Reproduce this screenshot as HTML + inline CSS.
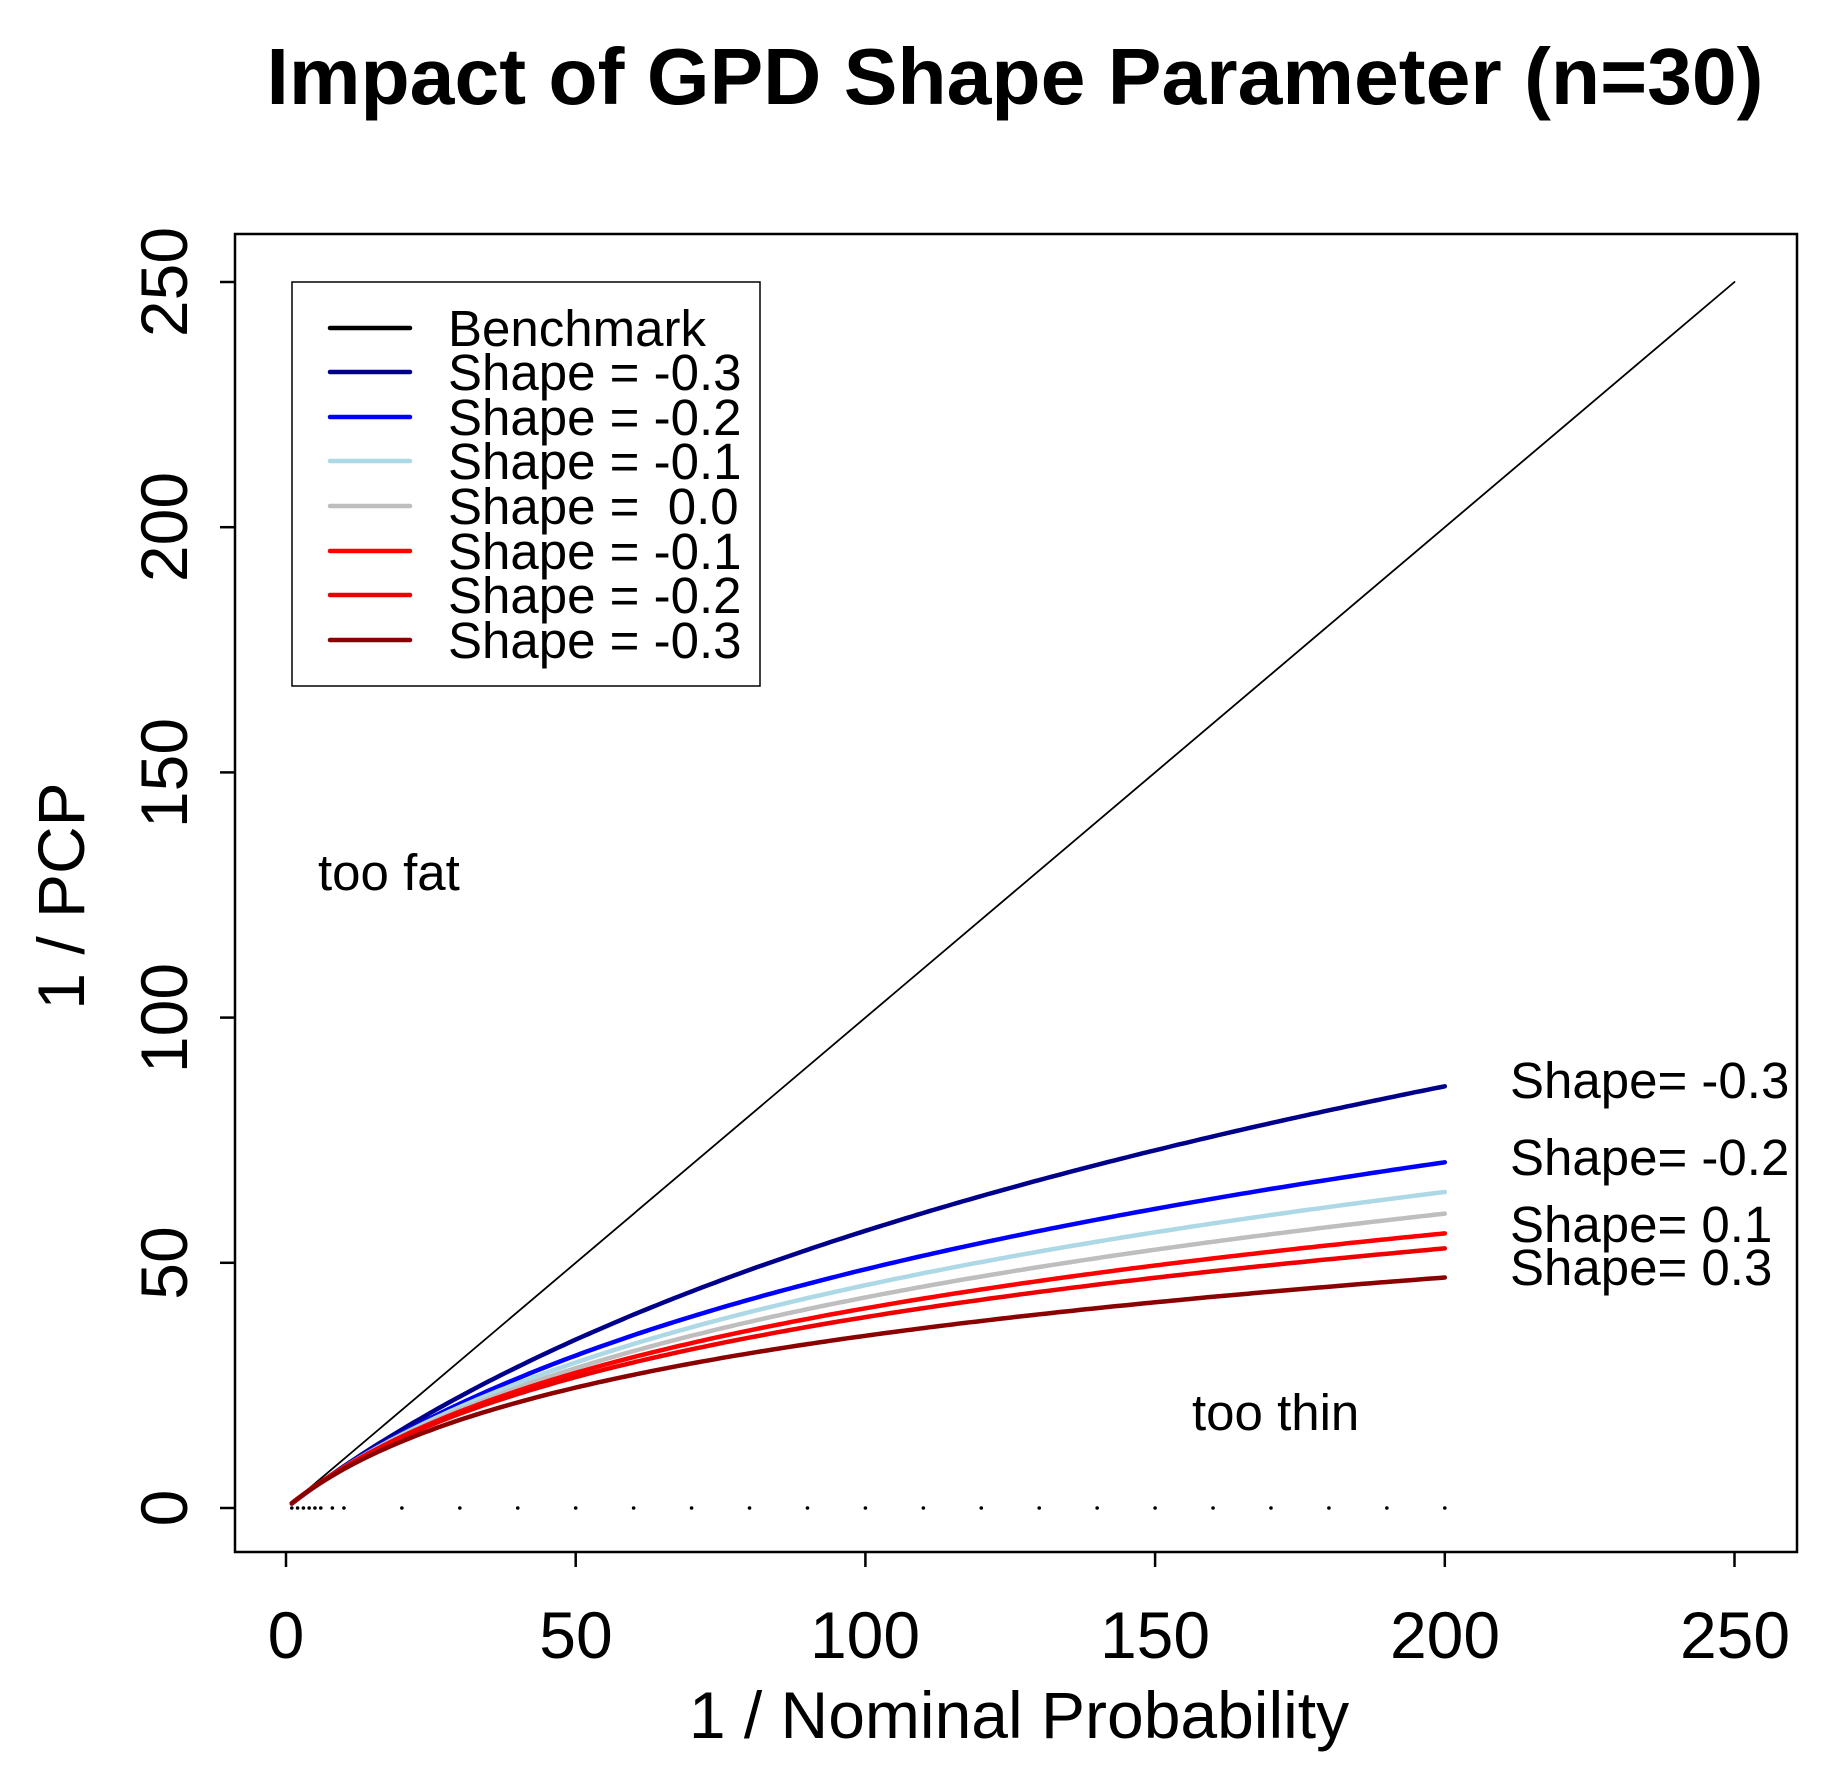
<!DOCTYPE html>
<html><head><meta charset="utf-8"><style>
html,body{margin:0;padding:0;background:#fff;}
svg{display:block;font-family:"Liberation Sans",Arial,sans-serif;}
</style></head><body>
<svg id="s" width="1840" height="1779" viewBox="0 0 1840 1779" xmlns="http://www.w3.org/2000/svg">
<rect width="1840" height="1779" fill="#fff"/>
<text x="1015" y="104" font-size="80" font-weight="bold" text-anchor="middle" textLength="1497" lengthAdjust="spacingAndGlyphs">Impact of GPD Shape Parameter (n=30)</text>
<rect x="235" y="234" width="1562" height="1318" fill="none" stroke="#000" stroke-width="2.5"/>
<g stroke="#000" stroke-width="2.5" id="ticks"></g>
<g font-size="66" text-anchor="middle">
<text x="286" y="1658">0</text><text x="576" y="1658">50</text><text x="865" y="1658">100</text>
<text x="1155" y="1658">150</text><text x="1445" y="1658">200</text><text x="1735" y="1658">250</text>
</g>
<g font-size="66" text-anchor="middle">
<text transform="translate(187,1508) rotate(-90)">0</text>
<text transform="translate(187,1263) rotate(-90)">50</text>
<text transform="translate(187,1018) rotate(-90)">100</text>
<text transform="translate(187,773) rotate(-90)">150</text>
<text transform="translate(187,527) rotate(-90)">200</text>
<text transform="translate(187,282) rotate(-90)">250</text>
</g>
<text x="1019" y="1738" font-size="66" text-anchor="middle">1 / Nominal Probability</text>
<text transform="translate(84,896) rotate(-90)" font-size="66" text-anchor="middle">1 / PCP</text>
<g id="curves" fill="none" stroke-linecap="round" stroke-linejoin="round"></g>
<g id="dots" fill="#000"></g>
<text x="318" y="890" font-size="51">too fat</text>
<text x="1192" y="1430" font-size="51">too thin</text>
<g font-size="51">
<text x="1510" y="1098">Shape= -0.3</text>
<text x="1510" y="1175">Shape= -0.2</text>
<text x="1510" y="1242">Shape= 0.1</text>
<text x="1510" y="1285">Shape= 0.3</text>
</g>
<rect x="292" y="282" width="468" height="404" fill="#fff" stroke="#000" stroke-width="1.5"/>
<g stroke-width="4.5" stroke-linecap="round">
<line x1="330" y1="328" x2="410" y2="328" stroke="#000"/>
<line x1="330" y1="372" x2="410" y2="372" stroke="#00008B"/>
<line x1="330" y1="417" x2="410" y2="417" stroke="#0000FF"/>
<line x1="330" y1="461" x2="410" y2="461" stroke="#ADD8E6"/>
<line x1="330" y1="506" x2="410" y2="506" stroke="#BEBEBE"/>
<line x1="330" y1="551" x2="410" y2="551" stroke="#FF0000"/>
<line x1="330" y1="595" x2="410" y2="595" stroke="#EE0000"/>
<line x1="330" y1="640" x2="410" y2="640" stroke="#8B0000"/>
</g>
<g font-size="51">
<text x="448" y="346">Benchmark</text>
<text x="448" y="390">Shape = -0.3</text>
<text x="448" y="435">Shape = -0.2</text>
<text x="448" y="479">Shape = -0.1</text>
<text x="448" y="524" xml:space="preserve">Shape =  0.0</text>
<text x="448" y="569">Shape = -0.1</text>
<text x="448" y="613">Shape = -0.2</text>
<text x="448" y="658">Shape = -0.3</text>
</g>
</svg>
<script>
(function(){
var NS="http://www.w3.org/2000/svg";
function X(v){return 286+v*5.794;}
function Y(v){return 1508-v*4.904;}
function el(n,a,p){var e=document.createElementNS(NS,n);for(var k in a)e.setAttribute(k,a[k]);p.appendChild(e);return e;}
var t=document.getElementById("ticks");
[0,50,100,150,200,250].forEach(function(v){
 el("line",{x1:X(v),y1:1552,x2:X(v),y2:1567},t);
 el("line",{x1:235,y1:Y(v),x2:220,y2:Y(v)},t);
});
var c=document.getElementById("curves");
el("line",{x1:X(1),y1:Y(1),x2:X(250),y2:Y(250),stroke:"#000","stroke-width":1.8},c);
var cs=[[63.7,70,"#00008B"],[41.6,45,"#0000FF"],[34.7,37,"#ADD8E6"],[30.3,32,"#BEBEBE"],[26.3,27,"#FF0000"],[23.7,24,"#EE0000"],[19.6,20,"#8B0000"]];
cs.forEach(function(q){
 var pts=[];
 for(var x=1;x<=200;x+=1){var y=q[0]*Math.log(1+x/q[1]);pts.push(X(x).toFixed(1)+","+Y(y).toFixed(1));}
 el("polyline",{points:pts.join(" "),stroke:q[2],"stroke-width":4.5},c);
});
var d=document.getElementById("dots");
var xs=[1,2,3,4,5,6,8,10,20,30,40,50,60,70,80,90,100,110,120,130,140,150,160,170,180,190,200];
xs.forEach(function(v){el("circle",{cx:X(v),cy:1508,r:1.8},d);});
})();
</script>
</body></html>
